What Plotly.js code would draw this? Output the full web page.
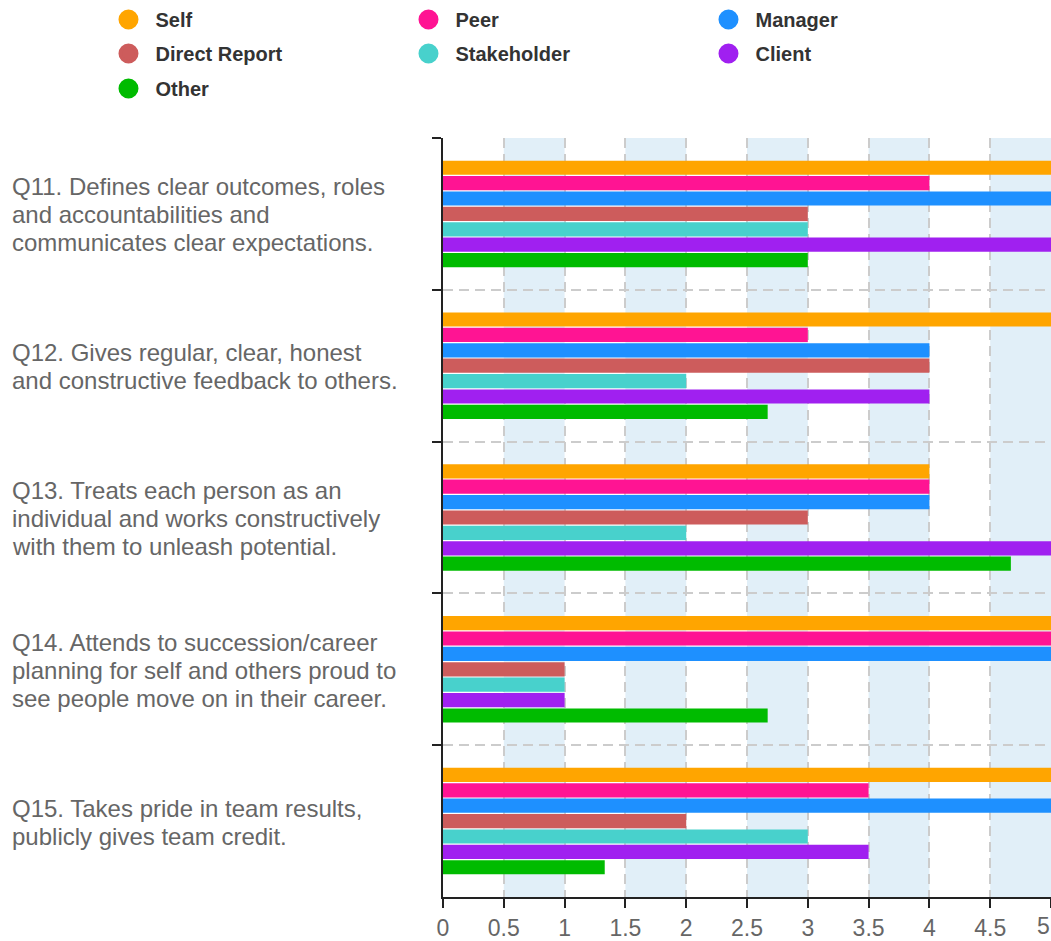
<!DOCTYPE html>
<html>
<head>
<meta charset="utf-8">
<script src="https://cdn.plot.ly/plotly-3.0.1.min.js"></script>
<style>
  html, body { margin: 0; padding: 0; background: #ffffff; }
  #chart { width: 1051px; height: 941px; }
</style>
</head>
<body>
<div id="chart"></div>
<script>
// Survey questions (category axis, top to bottom)
const questions = [
  'Q11. Defines clear outcomes, roles<br>and accountabilities and<br>communicates clear expectations.',
  'Q12. Gives regular, clear, honest<br>and constructive feedback to others.',
  'Q13. Treats each person as an<br>individual and works constructively<br>with them to unleash potential.',
  'Q14. Attends to succession/career<br>planning for self and others proud to<br>see people move on in their career.',
  'Q15. Takes pride in team results,<br>publicly gives team credit.'
];

// Rater groups
const raterGroups = ['Self', 'Peer', 'Manager', 'Direct Report', 'Stakeholder', 'Client', 'Other'];
const groupColors = ['#FFA500', '#FF1493', '#1E90FF', '#CD5C5C', '#48D1CC', '#A020F0', '#00BB00'];

// Average scores per question for each rater group
const selfScores        = [5, 5, 4, 5, 5];
const peerScores        = [4, 3, 4, 5, 3.5];
const managerScores     = [5, 4, 4, 5, 5];
const directScores      = [3, 4, 3, 1, 2];
const stakeholderScores = [3, 2, 2, 1, 3];
const clientScores      = [5, 4, 5, 1, 3.5];
const otherScores       = [3, 2.67, 4.67, 2.67, 1.33];

// Value axis ticks
const tickValues = [0, 0.5, 1, 1.5, 2, 2.5, 3, 3.5, 4, 4.5, 5];
const tickLabels = ['0', '0.5', '1', '1.5', '2', '2.5', '3', '3.5', '4', '4.5', '5'];

const scoreSets = [selfScores, peerScores, managerScores, directScores,
                   stakeholderScores, clientScores, otherScores];

const FONT = 'Liberation Sans, Arial, Helvetica, sans-serif';
const questionIds = questions.map((q, i) => i);
const legendIds = ['legend', 'legend2', 'legend3'];   // one legend per row of three keys

const traces = [];
// Bars
raterGroups.forEach((name, k) => {
  traces.push({
    type: 'bar',
    orientation: 'h',
    name: name,
    legendgroup: name,
    showlegend: false,
    x: scoreSets[k],
    y: questionIds,
    marker: { color: groupColors[k], line: { width: 0 } },
    hovertemplate: name + ': %{x}<extra></extra>'
  });
});
// Round legend keys
raterGroups.forEach((name, k) => {
  traces.push({
    type: 'scatter',
    mode: 'markers',
    name: name,
    legendgroup: name,
    legend: legendIds[Math.floor(k / 3)],
    showlegend: true,
    x: [null],
    y: [null],
    marker: { symbol: 'circle', size: 16, color: groupColors[k],
              line: { color: groupColors[k], width: 4 } },
    hoverinfo: 'skip'
  });
});

// Alternating light bands between every other pair of ticks
const shapes = [];
for (let i = 1; i < tickValues.length; i += 2) {
  shapes.push({
    type: 'rect', layer: 'below',
    xref: 'x', yref: 'paper',
    x0: tickValues[i], x1: tickValues[i + 1],
    y0: 0, y1: 1,
    fillcolor: '#E1EFF8', line: { width: 0 }
  });
}

// Left-aligned question labels, one annotation per text line (28px leading)
const LINE_STEP = 28;
const annotations = [];
questions.forEach((q, i) => {
  const lines = q.split('<br>');
  lines.forEach((line, j) => {
    annotations.push({
      xref: 'paper', yref: 'y',
      x: -0.711, y: i,
      xanchor: 'left', yanchor: 'middle', align: 'left',
      yshift: ((lines.length - 1) / 2 - j) * LINE_STEP - 1,
      text: line, showarrow: false, borderpad: 0,
      font: { family: FONT, size: 24, color: '#666666' }
    });
  });
});

// The last value label sits at the right edge of the plot, so it is
// right-anchored to the end of the axis instead of centred on its tick.
const lastTick = tickValues.length - 1;
annotations.push({
  xref: 'x', yref: 'paper',
  x: tickValues[lastTick], y: 0,
  xanchor: 'right', yanchor: 'top', yshift: -15,
  text: tickLabels[lastTick], showarrow: false, borderpad: 0,
  font: { family: FONT, size: 23, color: '#666666' }
});
const axisTickText = tickLabels.map((t, i) => (i === lastTick ? '' : t));

const legendBase = {
  orientation: 'h',
  xref: 'paper', yref: 'paper',
  x: -0.5617, xanchor: 'left', yanchor: 'top',
  entrywidth: 241, entrywidthmode: 'pixels',
  itemwidth: 44,
  traceorder: 'normal',
  bgcolor: 'rgba(0,0,0,0)',
  borderwidth: 0,
  font: { family: FONT, size: 20, color: '#333333', weight: 'bold' }
};

const layout = {
  width: 1051,
  height: 941,
  margin: { l: 443, r: 0, t: 138, b: 44, pad: 0, autoexpand: false },
  paper_bgcolor: '#ffffff',
  plot_bgcolor: 'rgba(0,0,0,0)',
  font: { family: FONT, color: '#666666' },
  barmode: 'group',
  bargap: 0.29,
  bargroupgap: 0.08,
  showlegend: true,
  legend:  Object.assign({}, legendBase, { y: 1.1818 }),
  legend2: Object.assign({}, legendBase, { y: 1.1370 }),
  legend3: Object.assign({}, legendBase, { y: 1.0909 }),
  xaxis: {
    range: [0, 5],
    tickmode: 'array',
    tickvals: tickValues,
    ticktext: axisTickText,
    showgrid: true,
    gridcolor: '#CCCCCC',
    gridwidth: 2,
    griddash: '10px,6px',
    zeroline: false,
    showline: true,
    linecolor: '#222222',
    linewidth: 2,
    ticks: 'outside',
    ticklen: 9,
    tickwidth: 2,
    tickcolor: '#222222',
    tickfont: { family: FONT, size: 23, color: '#666666' },
    fixedrange: true
  },
  yaxis: {
    type: 'category',
    autorange: 'reversed',
    tickson: 'boundaries',
    showgrid: true,
    gridcolor: '#CCCCCC',
    gridwidth: 2,
    griddash: '10px,6px',
    zeroline: false,
    showline: true,
    linecolor: '#222222',
    linewidth: 2,
    ticks: 'outside',
    ticklen: 9,
    tickwidth: 2,
    tickcolor: '#222222',
    showticklabels: false,
    fixedrange: true
  },
  shapes: shapes,
  annotations: annotations
};

Plotly.newPlot('chart', traces, layout, { displayModeBar: false, staticPlot: true });
</script>
</body>
</html>
